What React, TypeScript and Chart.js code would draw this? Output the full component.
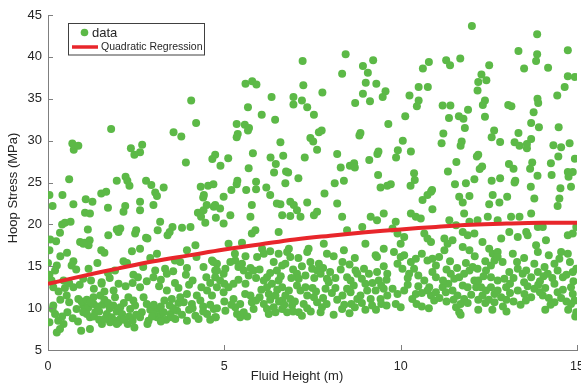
import React, { useEffect, useRef } from "react";
import { Chart, registerables } from "chart.js";

Chart.register(...registerables);

// Fluid height (m) / hoop stress (MPa) pairs, grouped by region
const lowHeightUpper: [number, number][] = [
  [4.06,34.8],[4.2,32.1],[1.79,31.4],[3.56,31.0],[3.78,30.5],[0.69,29.65],[0.73,28.9],[0.86,29.4],[2.35,29.1],[2.67,29.5],[2.61,28.6],[2.45,28.3],[3.91,27.4],[4.74,28.3],[4.66,27.8],[0.6,25.4],[1.95,25.2],[2.2,25.7],[2.25,25.2],[2.31,24.6],[2.78,25.2],[2.93,24.7],[3.28,24.4],[4.33,24.5],[4.54,24.6],[4.69,24.8],[4.89,27.0],
];
const lowHeightMid: [number, number][] = [
  [0.04,23.5],[0.13,22.2],[0.41,23.5],[0.72,22.4],[1.07,23.0],[1.26,22.7],[1.51,23.7],[1.65,23.9],[1.7,22.0],[1.05,21.4],[1.19,21.3],[2.19,22.2],[2.14,21.5],[2.61,22.7],[2.61,21.7],[3.04,23.8],[3.09,23.4],[2.99,22.3],[4.4,23.2],[4.42,23.5],[4.25,21.4],[4.41,21.7],[4.34,20.9],[4.46,20.2],[4.5,22.3],[4.7,22.1],[4.76,20.8],
  [0.4,20.0],[0.48,20.2],[0.64,20.3],[0.34,19.0],[0.06,18.2],[0.23,18.0],[0.04,16.9],[0.0,15.4],[1.13,19.4],[0.91,17.9],[1.04,17.8],[1.18,18.1],[1.15,17.5],[1.0,17.7],[1.51,16.9],[1.6,16.6],[1.71,18.7],[1.95,19.4],[2.05,19.5],[2.0,19.1],[2.5,19.3],[2.47,18.9],[2.78,18.4],[2.82,18.3],[2.38,16.8],[2.61,17.1],[3.11,19.3],[3.18,20.3],[3.39,18.7],[3.45,19.1],[3.53,19.7],[3.09,16.5],[3.8,19.6],[4.04,19.7],[3.94,16.9],[4.18,17.5],[0.54,16.6],[0.72,15.6],
];
const lowHeightLower: [number, number][] = [
  [0.0,13.7],[0.04,14.0],[0.1,13.3],[0.25,15.1],[0.2,14.5],[0.44,13.3],[0.67,15.1],[0.8,14.6],[1.15,14.7],[1.22,13.3],[1.52,13.1],[1.52,12.9],[2.24,15.4],[2.14,15.6],[2.42,14.0],[2.55,13.7],[3.04,14.5],[2.99,13.7],[3.32,14.7],[3.37,14.1],[3.75,15.5],[3.94,14.8],[3.91,14.0],[4.21,16.1],[4.41,14.9],[4.49,13.7],[4.79,15.3],[4.65,15.7],[4.74,14.5],
  [0.15,12.5],[0.48,12.4],[0.53,11.5],[0.72,12.5],[0.15,10.3],[0.13,9.9],[0.2,9.3],[0.04,8.3],[0.29,8.5],[0.44,8.1],[0.25,7.1],[0.34,7.5],[0.86,11.1],[0.81,9.9],[1.0,10.3],[1.05,9.9],[1.15,10.1],[1.29,10.5],[1.0,9.5],[1.1,9.3],[1.19,8.9],[1.34,9.5],[0.94,7.3],[1.19,7.5],[1.29,11.3],[1.48,11.5],[1.86,12.1],[1.9,11.3],[2.0,12.9],[1.67,9.3],[1.81,8.9],[1.9,8.5],[2.0,8.3],[2.05,8.7],[1.76,8.3],[1.95,8.1],[1.53,8.1],[2.28,11.3],[2.33,9.9],[2.42,10.9],[2.47,10.3],[2.26,8.1],[2.45,7.7],[2.61,12.5],[2.71,11.3],[2.8,10.5],[2.66,9.5],[2.61,8.9],[2.85,8.5],[2.82,8.1],[3.09,9.9],[3.18,9.1],[3.09,8.9],[3.28,9.5],[3.37,12.1],[3.51,11.1],[3.47,9.3],[3.66,9.7],[3.61,8.7],[3.94,11.7],[3.85,10.7],[4.08,10.5],[4.22,11.5],[4.32,10.9],[3.94,8.5],[4.18,9.1],[4.27,8.7],[4.51,9.3],[4.7,9.9],[4.76,8.9],[4.51,12.1],[4.65,11.5],
];
const lowHeightDense: [number, number][] = [
  [0.95,10.8],[1.1,11.0],[1.2,10.7],[1.4,10.2],[1.45,9.6],[1.55,10.4],[1.6,11.0],[1.7,10.6],[1.75,10.0],[1.85,10.3],[1.95,9.6],[2.05,10.1],[2.1,9.3],[2.15,10.6],[1.3,9.0],[1.45,8.6],[1.6,8.7],[2.15,8.6],[2.3,9.0],[2.4,8.5],[2.5,9.2],
  [2.9,9.8],[3.0,10.4],[3.2,10.2],[3.3,10.9],[3.45,10.3],[3.55,10.0],[3.7,10.6],[3.0,9.3],[3.35,8.6],[3.2,8.4],[2.95,9.0],[3.5,8.9],[3.8,9.2],[3.75,11.3],[4.0,9.8],[4.1,10.0],[4.4,10.2],[4.6,10.4],[4.4,9.6],[4.6,8.6],
  [0.3,12.0],[0.6,13.0],[0.9,12.8],[1.0,13.5],[1.3,12.3],[1.6,12.0],[1.75,13.6],[2.2,12.6],[2.4,13.0],[2.8,13.2],[3.15,12.6],[3.2,13.4],[3.6,13.0],[3.7,12.4],[4.0,12.8],[4.1,13.3],[4.35,12.5],[4.6,13.0],[0.35,11.0],[0.6,10.7],[0.55,9.5],[0.4,9.0],[0.7,8.8],[0.85,8.4],[1.7,14.2],[1.9,14.5],[2.7,14.9],[3.55,14.4],[3.6,15.7],[2.9,16.0],[1.4,15.4],[0.35,16.2],
];
const midHeightUpper: [number, number][] = [
  [8.44,40.3],[7.22,39.5],[9.22,39.6],[8.34,38.0],[8.93,38.9],[9.07,38.1],[5.6,36.8],[5.79,37.1],[5.91,36.7],[7.24,36.6],[9.01,36.9],[9.31,36.8],[9.57,35.9],[9.49,35.2],[7.78,35.75],[8.93,35.6],[6.34,35.2],[6.96,35.2],[6.96,34.3],[7.2,34.8],[7.35,34.0],[8.71,34.5],[9.13,34.7],[5.67,34.0],[6.06,33.1],[6.44,32.5],[7.54,33.1],[5.35,32.0],[5.58,31.9],[5.7,31.5],[5.67,31.2],[5.38,30.8],[5.35,30.4],[7.76,31.2],[7.68,31.0],[7.44,30.3],[7.52,29.9],[8.86,30.9],[8.83,30.6],[6.59,29.8],[9.65,32.0],[5.11,27.9],[5.81,28.5],[6.31,28.0],[6.46,27.2],[6.67,28.2],[7.28,28.0],[7.63,28.9],[8.2,28.4],[8.3,26.8],[8.56,27.0],[8.68,27.3],[8.7,26.8],[9.11,27.7],[9.34,28.4],[9.37,28.7],[5.69,26.7],[6.41,26.2],[6.75,26.3],[6.81,26.2],[7.1,25.5],[9.36,25.9],[5.2,24.1],[5.37,25.2],[5.35,24.8],[5.62,24.1],[5.9,25.1],[5.9,24.2],[6.19,24.4],[6.73,24.9],[8.13,24.9],[8.39,25.2],[9.43,24.4],[9.62,24.6],
];
const midHeightMid: [number, number][] = [
  [6.3,23.5],[4.74,22.3],[4.98,23.3],[4.88,21.9],[5.17,21.1],[4.98,20.1],[5.78,22.3],[5.74,20.9],[6.49,22.5],[6.59,22.4],[6.87,22.7],[6.97,22.3],[7.06,21.7],[6.87,21.0],[7.16,20.9],[7.35,22.6],[6.64,21.1],[7.63,21.5],[7.54,21.1],[7.84,23.7],[8.2,22.5],[8.34,20.9],[9.15,20.9],[9.33,20.5],[9.52,21.3],[5.78,18.9],[5.88,19.3],[6.54,19.1],[5.12,17.7],[5.5,17.8],[6.07,17.1],[6.12,16.5],[5.93,16.1],[6.54,16.5],[6.83,17.1],[6.78,16.7],[6.87,16.1],[7.39,17.1],[7.35,16.7],[7.91,16.5],[7.82,17.7],[8.39,16.9],[8.48,19.3],[9.0,17.7],[8.91,19.7],[9.29,16.3],[9.33,16.1],[9.52,17.1],
];
const midHeightLower: [number, number][] = [
  [4.69,15.5],[4.79,14.5],[4.74,13.7],[4.88,13.3],[4.98,14.1],[5.03,14.7],[5.17,15.5],[5.31,15.7],[5.4,14.9],[5.55,14.5],[5.5,15.3],[5.74,14.8],[5.83,14.5],[5.69,13.9],[6.4,15.5],[6.64,15.1],[6.73,15.3],[6.49,14.5],[6.21,13.7],[7.06,14.1],[7.11,13.5],[7.44,15.5],[7.49,14.7],[7.68,15.3],[7.63,14.5],[7.73,14.1],[7.91,13.5],[8.48,13.7],[8.58,13.3],[8.72,14.5],[8.77,14.1],[8.96,14.7],[9.1,14.1],[9.33,14.3],[9.38,13.3],[9.52,15.0],[9.62,14.1],
  [4.79,12.5],[4.98,11.9],[5.12,12.5],[5.26,12.9],[4.79,10.0],[5.03,9.7],[4.74,8.9],[5.26,11.1],[5.31,10.1],[5.36,9.3],[5.45,8.9],[5.59,11.7],[5.74,11.5],[5.78,10.7],[5.83,9.9],[6.12,13.3],[6.21,12.5],[6.26,11.7],[6.35,12.9],[6.12,10.5],[6.21,9.9],[6.26,9.3],[6.45,9.5],[6.4,10.1],[6.54,13.3],[6.64,12.5],[6.73,11.5],[6.83,12.1],[6.64,10.9],[6.87,11.1],[6.92,10.3],[6.64,9.9],[6.78,9.5],[7.11,9.5],[7.2,9.1],[7.06,12.7],[7.16,12.1],[7.3,12.5],[7.35,11.5],[7.54,11.3],[7.63,10.7],[7.77,10.1],[7.73,9.5],[7.87,12.3],[7.96,13.1],[8.34,9.9],[8.48,12.3],[8.58,11.9],[8.67,12.7],[8.77,11.1],[8.86,11.5],[9.0,12.9],[9.05,12.1],[9.15,11.1],[9.19,10.3],[9.29,12.1],[9.43,11.1],[9.52,12.3],[9.62,11.5],
];
const midHeightDense: [number, number][] = [
  [5.0,10.8],[5.2,10.4],[5.45,10.5],[5.55,9.5],[5.65,9.0],[5.9,10.9],[6.0,11.3],[6.05,12.2],[6.3,11.0],[6.45,11.5],[6.5,12.2],[6.55,10.8],[6.7,10.4],[6.95,9.6],[7.0,10.8],[7.25,10.5],[7.35,10.0],[7.45,9.6],[7.5,12.4],[7.6,12.0],[7.8,11.2],[7.9,10.5],[8.05,11.8],[8.15,12.4],[8.2,11.0],[8.35,11.5],[8.4,10.4],[8.6,10.5],[8.7,10.1],[8.9,10.6],[9.0,9.8],[9.3,9.8],[9.45,10.5],[9.6,10.3],[8.1,9.2],[8.55,9.4],
  [5.0,12.9],[5.4,13.4],[5.6,12.9],[5.9,13.6],[6.0,14.6],[6.3,14.2],[6.6,13.8],[6.9,13.6],[6.95,14.6],[7.2,15.0],[7.3,13.9],[7.55,13.6],[7.8,14.8],[8.0,14.3],[8.15,13.6],[8.3,14.6],[8.35,15.5],[8.55,15.2],[8.9,13.5],[9.2,13.0],[9.45,12.7],[9.6,13.4],[8.1,16.2],[8.7,16.0],[5.3,16.5],[5.6,16.2],[6.3,16.8],[7.1,16.0],
];
const highHeightUpper: [number, number][] = [
  [12.02,43.7],[13.87,42.7],[13.34,40.7],[13.87,40.3],[13.84,39.5],[14.74,40.8],[11.69,39.8],[11.29,39.6],[11.4,39.0],[10.8,39.4],[10.63,38.6],[12.51,39.0],[13.5,38.6],[14.18,38.7],[12.29,37.9],[12.2,37.0],[12.43,37.2],[12.18,36.0],[14.74,37.7],[14.94,37.6],[14.65,36.4],[14.44,35.4],[10.51,36.4],[10.77,36.4],[10.25,35.4],[10.51,34.8],[10.46,34.1],[11.19,34.2],[11.41,34.2],[11.37,32.7],[11.91,33.7],[12.39,34.8],[12.33,34.25],[13.05,34.25],[13.14,34.1],[13.88,35.0],[13.9,34.5],[13.77,33.4],[10.13,32.9],[11.65,32.9],[11.78,32.6],[11.82,31.5],[12.39,32.85],[13.7,32.1],[13.92,31.6],[14.48,31.6],[11.21,30.85],[11.16,29.7],[12.65,31.2],[12.58,30.4],[12.82,29.85],[13.34,30.9],[13.23,29.8],[13.37,29.4],[13.58,29.6],[13.58,29.1],[13.7,30.2],[11.73,29.9],[11.7,29.4],[10.06,30.0],[9.92,28.85],[9.87,28.0],[10.29,28.7],[14.33,29.45],[14.55,29.2],[14.47,28.1],[14.79,29.7],[14.94,27.85],[12.2,28.3],[12.16,28.1],[11.58,27.45],[11.34,26.3],[12.31,26.9],[12.24,26.6],[13.07,27.2],[13.2,26.65],[13.73,27.4],[13.67,26.65],[14.26,27.3],[14.28,25.9],[14.74,26.25],[14.88,26.25],[14.76,25.7],[13.88,25.8],[9.72,24.8],[10.28,24.6],[10.38,26.1],[10.4,25.3],[10.89,24.1],[11.54,24.8],[11.85,24.9],[12.09,25.4],[12.58,25.2],[12.82,25.5],[13.25,25.2],[13.23,25.0],[13.69,24.5],[14.53,24.3],[14.83,24.5],
];
const highHeightMid: [number, number][] = [
  [10.86,23.9],[10.76,23.5],[10.62,22.9],[10.9,21.8],[11.66,23.3],[11.95,23.4],[11.76,22.6],[12.61,23.5],[12.51,22.4],[12.8,22.6],[13.02,23.3],[13.79,23.1],[14.5,23.1],[14.45,22.2],[10.29,21.3],[10.57,20.7],[10.43,20.9],[9.86,20.3],[9.77,19.5],[11.38,20.5],[11.57,19.9],[11.8,21.3],[11.95,20.3],[12.18,20.5],[12.47,20.9],[12.75,20.5],[13.13,20.9],[13.37,20.9],[13.7,21.3],[13.89,19.7],[14.03,19.7],[14.98,19.7],[14.88,18.9],[14.74,18.7],[9.91,18.9],[10.1,18.5],[10.0,17.7],[10.67,18.9],[10.76,18.3],[10.86,17.9],[11.24,18.3],[11.33,17.7],[11.47,18.1],[11.24,16.9],[11.76,19.1],[11.9,18.7],[12.09,18.9],[11.76,17.3],[11.95,16.9],[12.32,17.9],[12.51,17.1],[12.61,16.5],[12.75,16.7],[12.85,18.3],[13.08,19.1],[13.18,16.5],[13.32,18.5],[13.56,19.1],[13.6,18.7],[13.84,17.5],[13.89,16.7],[14.12,18.1],[14.55,16.7],[14.74,16.5],
];
const highHeightLower: [number, number][] = [
  [9.81,16.7],[10.0,16.1],[10.1,16.3],[9.91,15.3],[10.05,14.7],[10.29,15.5],[10.43,15.9],[10.38,14.7],[10.24,14.1],[10.76,15.7],[10.9,15.9],[11.09,16.1],[11.0,15.1],[10.9,14.3],[11.0,13.7],[10.67,13.3],[11.42,14.1],[11.52,13.5],[11.66,13.7],[11.8,14.1],[11.95,14.5],[12.04,14.9],[12.18,14.7],[12.42,14.5],[12.56,15.1],[12.66,15.7],[12.75,16.1],[12.89,15.5],[12.56,13.7],[12.75,13.3],[12.94,13.5],[13.08,14.3],[13.32,14.7],[13.46,14.1],[13.56,14.5],[13.7,13.7],[13.89,14.3],[13.79,15.3],[14.08,14.9],[14.17,14.1],[14.36,15.3],[14.45,14.5],[14.6,13.7],[14.88,14.3],[14.98,14.7],
  [9.77,12.3],[9.91,11.7],[10.1,12.1],[9.86,10.5],[10.0,10.1],[10.43,11.7],[10.33,11.1],[10.81,12.5],[10.86,11.5],[10.95,10.9],[10.76,12.1],[11.19,12.5],[11.28,11.9],[11.47,12.1],[11.61,11.5],[11.8,11.1],[11.76,12.7],[11.9,12.5],[11.57,10.1],[11.66,9.5],[12.09,13.3],[12.14,12.5],[12.28,12.5],[12.42,12.1],[12.32,11.5],[12.56,12.5],[12.66,11.7],[12.75,12.1],[12.85,11.3],[12.66,10.7],[12.99,12.5],[13.32,12.1],[13.51,11.7],[13.7,11.3],[13.79,12.3],[14.03,11.5],[14.36,12.9],[14.45,11.9],[14.36,10.7],[14.83,12.5],[14.88,11.7],[14.93,10.9],[14.83,10.5],[14.98,9.5],
];
const highHeightDense: [number, number][] = [
  [10.2,12.8],[10.5,12.6],[10.6,11.8],[10.45,10.5],[10.6,10.2],[10.8,10.0],[11.0,11.9],[11.1,11.2],[11.3,10.8],[11.35,12.9],[11.5,11.0],[11.7,10.5],[11.9,10.6],[12.0,11.6],[12.2,11.0],[12.4,10.6],[12.5,11.0],[12.6,9.8],[12.9,10.2],[13.0,11.0],[13.1,11.8],[13.2,10.8],[13.4,10.4],[13.55,10.9],[13.6,12.6],[13.9,12.8],[13.95,11.9],[14.1,12.4],[14.2,11.2],[14.25,10.4],[14.55,11.2],[14.6,12.2],[14.7,10.8],[14.75,9.8],[14.95,9.0],[11.7,9.2],[12.2,9.8],[13.0,9.6],[14.1,9.8],
  [10.2,13.6],[10.5,13.9],[11.2,13.3],[11.3,14.6],[11.6,14.8],[11.85,15.4],[12.2,13.3],[12.35,13.8],[12.4,15.6],[13.1,12.9],[13.2,13.6],[13.3,15.5],[13.5,13.1],[13.95,13.2],[14.05,13.8],[14.3,13.6],[14.5,15.9],[14.7,14.0],[14.8,15.5],[14.9,13.2],[10.6,16.5],[11.4,15.6],[12.1,16.2],[13.5,16.0],[14.2,16.3],
];

// Quadratic regression curve
const fitHeights = [0, 1, 2, 3, 4, 5, 6, 7, 8, 9, 10, 11, 12, 13, 14, 15];
const fitStress = [12.9, 13.85, 14.75, 15.6, 16.3, 17.0, 17.6, 18.2, 18.65, 19.05, 19.4, 19.7, 19.95, 20.1, 20.2, 20.2];

const xTicks = [0, 5, 10, 15];
const yTicks = [5, 10, 15, 20, 25, 30, 35, 40, 45];

const GREEN = "#5cb947";
const RED = "#e8262b";
const AXIS = "#7f7f7f";
const TEXT = "#262626";

const overlay = {
  id: "overlay",
  afterDraw(chart: any) {
    const ctx = chart.ctx;
    const xs = chart.scales.x;
    const ys = chart.scales.y;
    const { left, bottom } = chart.chartArea;
    ctx.save();
    ctx.strokeStyle = AXIS;
    ctx.lineWidth = 1;
    ctx.beginPath();
    yTicks.forEach((v) => {
      const y = Math.round(ys.getPixelForValue(v)) + 0.5;
      ctx.moveTo(left, y);
      ctx.lineTo(left + 5, y);
    });
    xTicks.forEach((v) => {
      const x = Math.round(xs.getPixelForValue(v)) + 0.5;
      ctx.moveTo(x, bottom);
      ctx.lineTo(x, bottom - 5);
    });
    ctx.stroke();

    // axis titles
    ctx.fillStyle = TEXT;
    ctx.font = "13px 'Liberation Sans', Arial, sans-serif";
    ctx.textAlign = "center";
    ctx.textBaseline = "middle";
    ctx.fillText("Fluid Height (m)", 297, 376);
    ctx.save();
    ctx.translate(13, 188);
    ctx.rotate(-Math.PI / 2);
    ctx.fillText("Hoop Stress (MPa)", 0, 0);
    ctx.restore();

    // legend
    ctx.fillStyle = "#ffffff";
    ctx.fillRect(68, 23.5, 136, 31.5);
    ctx.strokeStyle = "#404040";
    ctx.lineWidth = 1;
    ctx.strokeRect(68.5, 23.5, 136, 31.5);
    ctx.fillStyle = GREEN;
    ctx.beginPath();
    ctx.arc(84.5, 32.5, 3.8, 0, Math.PI * 2);
    ctx.fill();
    ctx.fillStyle = TEXT;
    ctx.textAlign = "left";
    ctx.font = "13px 'Liberation Sans', Arial, sans-serif";
    ctx.fillText("data", 92, 33);
    ctx.strokeStyle = RED;
    ctx.lineWidth = 3.5;
    ctx.beginPath();
    ctx.moveTo(72, 47);
    ctx.lineTo(98, 47);
    ctx.stroke();
    ctx.font = "10.5px 'Liberation Sans', Arial, sans-serif";
    ctx.fillText("Quadratic Regression", 101, 47);
    ctx.restore();
  },
};

export default function App() {
  const ref = useRef<HTMLCanvasElement>(null);
  useEffect(() => {
    document.body.style.margin = "0";
    const all = [
      ...lowHeightUpper, ...lowHeightMid, ...lowHeightLower, ...lowHeightDense,
      ...midHeightUpper, ...midHeightMid, ...midHeightLower, ...midHeightDense,
      ...highHeightUpper, ...highHeightMid, ...highHeightLower, ...highHeightDense,
    ];
    const chart = new Chart(ref.current!, {
      type: "scatter",
      data: {
        datasets: [
          {
            type: "line",
            label: "Quadratic Regression",
            data: fitHeights.map((h, i) => ({ x: h, y: fitStress[i] })),
            borderColor: RED,
            borderWidth: 4,
            pointRadius: 0,
            tension: 0.4,
            fill: false,
            order: 0,
          } as any,
          {
            label: "data",
            data: all.map(([x, y]) => ({ x, y })),
            backgroundColor: GREEN,
            borderWidth: 0,
            pointRadius: 4,
            pointHoverRadius: 4,
            order: 1,
          },
        ],
      },
      options: {
        responsive: false,
        animation: false,
        events: [],
        layout: { padding: { left: 0, right: 4, top: 15, bottom: 0 } },
        plugins: { legend: { display: false }, tooltip: { enabled: false } },
        scales: {
          x: {
            type: "linear",
            min: 0,
            max: 15,
            afterFit: (s: any) => { s.height = 35; s.paddingLeft = 0; s.paddingRight = 0; },
            afterBuildTicks: (s: any) => { s.ticks = xTicks.map((v) => ({ value: v })); },
            grid: { display: false, drawTicks: false },
            border: { display: true, color: AXIS, width: 1 },
            ticks: { color: TEXT, font: { family: "'Liberation Sans', Arial, sans-serif", size: 12.5 }, padding: 9, maxRotation: 0 },
          },
          y: {
            type: "linear",
            min: 5,
            max: 45,
            afterFit: (s: any) => { s.width = 48; s.paddingTop = 0; s.paddingBottom = 0; },
            afterBuildTicks: (s: any) => { s.ticks = yTicks.map((v) => ({ value: v })); },
            grid: { display: false, drawTicks: false },
            border: { display: true, color: AXIS, width: 1 },
            ticks: { color: TEXT, font: { family: "'Liberation Sans', Arial, sans-serif", size: 13 }, padding: 6 },
          },
        },
      },
      plugins: [overlay],
    });
    return () => chart.destroy();
  }, []);
  return (
    <div style={{ position: "absolute", left: 0, top: 0, width: 581, height: 385 }}>
      <canvas ref={ref} width={581} height={385} style={{ width: 581, height: 385, display: "block" }} />
    </div>
  );
}
